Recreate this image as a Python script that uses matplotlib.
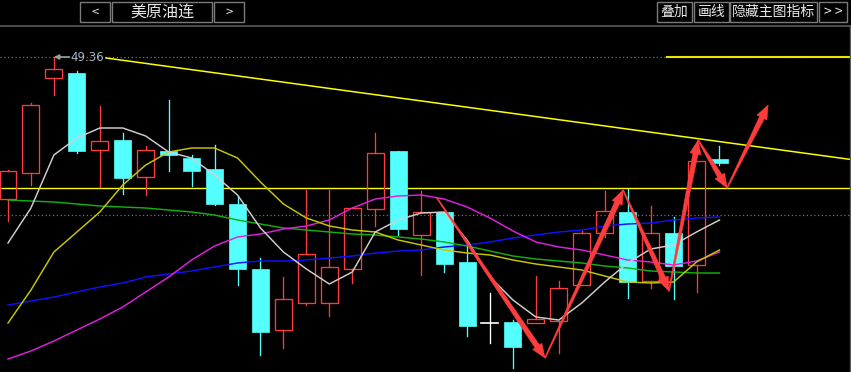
import matplotlib
matplotlib.use("Agg")
import matplotlib.pyplot as plt
from matplotlib.patches import Rectangle, Polygon
import numpy as np

plt.rcParams['font.family'] = ['Noto Sans CJK SC', 'DejaVu Sans']

# ---------------- data ----------------
opens  = [46.52, 47.04, 48.94, 49.04, 47.50, 47.70, 46.96, 47.48, 47.34, 47.12,
          46.42, 45.12, 43.90, 44.44, 44.44, 45.12, 46.32, 47.48, 45.80, 46.26,
          45.26, 44.04, 44.06, 44.04, 44.08, 44.80, 45.84, 46.26, 44.88, 45.84,
          45.20, 47.32]
highs  = [47.10, 48.44, 49.36, 49.08, 48.38, 47.84, 47.58, 48.50, 47.40, 47.60,
          46.58, 45.34, 44.96, 46.70, 46.70, 46.34, 47.84, 47.48, 46.68, 46.26,
          45.64, 44.64, 44.10, 44.98, 44.88, 45.88, 46.68, 46.72, 46.38, 46.16,
          47.28, 47.58]
lows   = [46.08, 46.80, 48.60, 47.44, 46.76, 46.62, 46.60, 47.08, 46.78, 46.40,
          44.80, 43.40, 43.54, 44.40, 44.18, 44.84, 45.98, 45.80, 45.00, 45.06,
          43.78, 43.64, 43.14, 44.04, 43.44, 44.80, 45.76, 44.54, 44.74, 44.52,
          44.66, 47.20]
closes = [47.08, 48.40, 49.12, 47.48, 47.68, 46.94, 47.50, 47.40, 47.08, 46.42,
          45.12, 43.86, 44.52, 45.42, 45.16, 46.34, 47.44, 45.92, 46.26, 45.22,
          43.98, 44.04, 43.56, 44.12, 44.74, 45.84, 46.28, 44.86, 45.84, 45.18,
          47.28, 47.24]

ma_white   = [45.64, 46.34, 47.40, 47.74, 47.94, 47.94, 47.78, 47.46, 47.34, 47.00,
              46.60, 45.94, 45.46, 45.12, 44.82, 45.06, 45.86, 46.10, 46.24, 46.26,
              45.70, 44.96, 44.50, 44.16, 44.10, 44.44, 44.86, 45.24, 45.52, 45.60,
              45.86, 46.10]
ma_yellow  = [44.04, 44.70, 45.46, 45.86, 46.26, 46.80, 47.20, 47.46, 47.54, 47.54,
              47.34, 46.86, 46.42, 46.14, 45.98, 45.90, 45.86, 45.70, 45.60, 45.50,
              45.44, 45.40, 45.30, 45.22, 45.16, 45.10, 44.98, 44.86, 44.84, 44.86,
              45.26, 45.50]
ma_magenta = [43.32, 43.48, 43.68, 43.90, 44.12, 44.36, 44.66, 44.96, 45.30, 45.58,
              45.76, 45.82, 45.92, 45.98, 46.10, 46.34, 46.52, 46.58, 46.60, 46.52,
              46.36, 46.14, 45.88, 45.66, 45.56, 45.50, 45.40, 45.30, 45.26, 45.20,
              45.28, 45.46]
ma_green   = [46.50, 46.48, 46.46, 46.42, 46.38, 46.36, 46.34, 46.30, 46.26, 46.20,
              46.10, 46.02, 45.94, 45.90, 45.86, 45.82, 45.80, 45.76, 45.72, 45.66,
              45.58, 45.48, 45.38, 45.32, 45.28, 45.24, 45.18, 45.14, 45.08, 45.06,
              45.04, 45.04]
ma_blue    = [44.40, 44.48, 44.56, 44.66, 44.76, 44.84, 44.96, 45.02, 45.08, 45.16,
              45.24, 45.28, 45.28, 45.30, 45.34, 45.38, 45.44, 45.48, 45.50, 45.56,
              45.60, 45.66, 45.74, 45.80, 45.86, 45.90, 45.98, 46.02, 46.04, 46.10,
              46.14, 46.16]

high_label = "49.36"
high_value = 49.36
support_level = 46.74
grid_levels = [46.20, 49.36]
trend_x = [4.27, 36.73]
trend_y = [49.34, 47.31]

# hand-drawn arrow path (index, price)
arrow_x = [18.69, 23.40, 26.80, 28.80, 30.07, 31.33, 33.12]
arrow_y = [46.54, 43.34, 46.70, 44.68, 47.70, 46.74, 48.40]

title = "美原油连"
buttons_right = ["叠加", "画线", "隐藏主图指标", "> >"]

# ---------------- figure ----------------
W, H = 851, 372
fig = plt.figure(figsize=(W / 100, H / 100), dpi=100, facecolor='black')
ax = fig.add_axes([0, 0, 1, 1])
ax.set_facecolor('black')
ax.set_xlim(-0.3486, 36.73)
ax.set_ylim(43.06, 50.50)
ax.axis('off')

RED = '#ff3c3c'
CYAN = '#54ffff'
body_w = 0.74
lw_c = 0.95

# grid dotted lines
for lv in grid_levels:
    ax.axhline(lv, color='#707070', lw=0.9, ls=(0, (1, 2)), zorder=1)

# candles
for i, (o, h, l, c) in enumerate(zip(opens, highs, lows, closes)):
    top, bot = max(o, c), min(o, c)
    if c > o:
        ax.add_patch(Rectangle((i - body_w / 2, bot), body_w, top - bot,
                               facecolor='none', edgecolor=RED, lw=lw_c, zorder=4))
        ax.plot([i, i], [top, h], color=RED, lw=lw_c, zorder=4)
        ax.plot([i, i], [l, bot], color=RED, lw=lw_c, zorder=4)
    elif c < o:
        ax.plot([i, i], [l, h], color=CYAN, lw=lw_c, zorder=4)
        ax.add_patch(Rectangle((i - body_w / 2, bot), body_w, top - bot,
                               facecolor=CYAN, edgecolor=CYAN, lw=0.5, zorder=4))
    else:
        ax.plot([i, i], [l, h], color='white', lw=lw_c, zorder=4)
        ax.plot([i - body_w / 2, i + body_w / 2], [o, o], color='white', lw=1.2, zorder=4)

# moving averages (drawn over the candles)
x = np.arange(len(opens))
lw_ma = 1.05
ax.plot(x, ma_blue, color='#1010ff', lw=lw_ma, zorder=5)
ax.plot(x, ma_green, color='#10b010', lw=lw_ma, zorder=5)
ax.plot(x, ma_magenta, color='#e020e0', lw=lw_ma, zorder=5)
ax.plot(x, ma_yellow, color='#c8c800', lw=lw_ma, zorder=5)
ax.plot(x, ma_white, color='#d0d0d0', lw=lw_ma, zorder=5)

# support & trend lines
ax.axhline(support_level, color='#ffff00', lw=1.0, zorder=3)
ax.plot(trend_x, trend_y, color='#ffff00', lw=1.1, zorder=3)
ax.plot([28.71, 36.73], [high_value, high_value], color='#e6e600', lw=1.5, zorder=3)

# high label
ax.annotate('', xy=(2.0, high_value), xytext=(2.68, high_value),
            arrowprops=dict(arrowstyle='-|>', color='#a0a0a0', lw=1.2,
                            mutation_scale=7, shrinkA=0, shrinkB=0), zorder=5)
ax.text(2.7, high_value, high_label, color='#a8b4c0', fontsize=8.5,
        family=['DejaVu Sans'], va='center', ha='left', zorder=5)

# tapered arrows
fig.canvas.draw()
T = ax.transData
Ti = T.inverted()
def tapered_arrow(p0, p1):
    a = T.transform(p0)
    b = T.transform(p1)
    d = b - a
    L = np.hypot(*d)
    u = d / L
    n = np.array([-u[1], u[0]])
    hl, hw = 14.0, 5.5
    s0, s1 = 0.5, 2.6
    base = b - u * hl
    pts = [a + n * s0, base + n * s1, base + n * hw, b,
           base - n * hw, base - n * s1, a - n * s0]
    pts = Ti.transform(np.array(pts))
    ax.add_patch(Polygon(pts, closed=True, facecolor=RED, edgecolor=RED,
                         lw=0.4, zorder=6))

for k in range(len(arrow_x) - 1):
    tapered_arrow((arrow_x[k], arrow_y[k]), (arrow_x[k + 1], arrow_y[k + 1]))

# ---------------- toolbar (figure pixel coords) ----------------
def px(xp, yp):
    return xp / W, 1 - yp / H

fig.patches.append(Rectangle(px(0, 25), 1, 25 / H, transform=fig.transFigure,
                             facecolor='black', edgecolor='none', zorder=10))
fig.lines.append(plt.Line2D([0, 1], [1 - 25.5 / H] * 2, transform=fig.transFigure,
                            color='#5a5a5a', lw=1.2, zorder=11))
fig.lines.append(plt.Line2D([849.5 / W] * 2, [0, 1 - 25.5 / H], transform=fig.transFigure,
                            color='#5a5a5a', lw=1.0, zorder=11))

def button(x0, x1, label, fs=10):
    fig.patches.append(Rectangle(px(x0, 22), (x1 - x0) / W, 20 / H,
                                 transform=fig.transFigure, facecolor='black',
                                 edgecolor='#7a7a7a', lw=1.0, zorder=11))
    cx, cy = px((x0 + x1) / 2, 12)
    fig.text(cx, cy, label, color='#e8e8e8', fontsize=fs, ha='center',
             va='center', zorder=12)

button(80, 110, "<", 9.5)
button(112, 212, title, 11.5)
button(214, 244, ">", 9.5)
rx = [(657, 692), (694, 729), (730, 817), (819, 847)]
for (a0, a1), lab in zip(rx, buttons_right):
    button(a0, a1, lab, 10)

fig.savefig('out.png', dpi=100, facecolor='black')
